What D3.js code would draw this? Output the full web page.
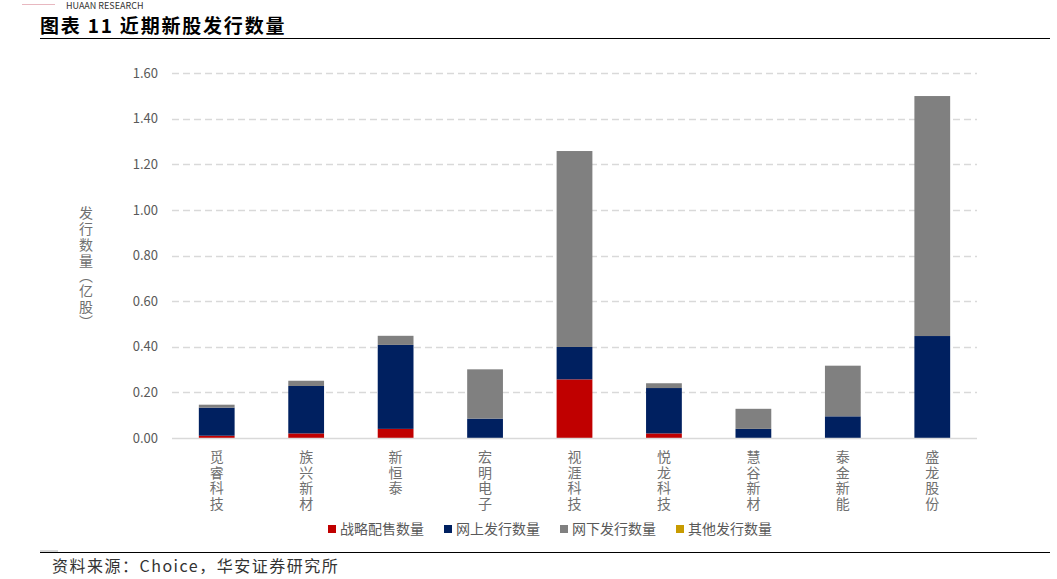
<!DOCTYPE html>
<html><head><meta charset="utf-8">
<script src="https://cdn.jsdelivr.net/npm/d3@7"></script>
<style>
body{margin:0;background:#fff;}
text{font-family:"Noto Sans CJK SC","Noto Sans",sans-serif;}
</style></head>
<body><svg id="c" width="1057" height="579"></svg>
<script>
const categories = ["觅睿科技","族兴新材","新恒泰","宏明电子","视涯科技","悦龙科技","慧谷新材","泰金新能","盛龙股份"];
const seriesNames = ["战略配售数量","网上发行数量","网下发行数量","其他发行数量"];
const strategic = [0.010, 0.020, 0.040, 0.000, 0.257, 0.020, 0.000, 0.000, 0.000];
const online    = [0.123, 0.208, 0.368, 0.085, 0.142, 0.199, 0.040, 0.095, 0.447];
const offline   = [0.013, 0.023, 0.040, 0.216, 0.859, 0.021, 0.088, 0.222, 1.052];
const other     = [0, 0, 0, 0, 0, 0, 0, 0, 0];
const yTicks = [0,0.2,0.4,0.6,0.8,1.0,1.2,1.4,1.6];
const yTitleChars = ["发","行","数","量","︵","亿","股","︶"];
const colors = ["#C00000","#002060","#808080","#C89B00"];

const svg = d3.select("#c");
const data = categories.map((c,i)=>({cat:c, s0:strategic[i], s1:online[i], s2:offline[i], s3:other[i]}));
const stack = d3.stack().keys(["s0","s1","s2","s3"])(data);

const x = d3.scaleBand().domain(categories).range([172,977]).paddingInner(0.6).paddingOuter(0.3);
const y = d3.scaleLinear().domain([0,1.6]).range([438,73]);

// header
svg.append("line").attr("x1",22).attr("x2",55).attr("y1",4.5).attr("y2",4.5).attr("stroke","#e8b8c0").attr("stroke-width",1);
svg.append("text").attr("x",66).attr("y",9).attr("font-size",9).attr("font-family","Liberation Serif").attr("fill","#333").text("HUAAN RESEARCH");
svg.append("text").attr("x",40).attr("y",33).attr("font-size",19).attr("font-weight","bold").attr("fill","#000")
  .style("letter-spacing","1.8px").text("图表 11 近期新股发行数量");
svg.append("line").attr("x1",40).attr("x2",1050).attr("y1",38.5).attr("y2",38.5).attr("stroke","#000").attr("stroke-width",1.2);

// grid
svg.append("g").selectAll("line").data(yTicks.slice(1)).join("line")
  .attr("x1",172).attr("x2",977).attr("y1",d=>Math.round(y(d))+0.5).attr("y2",d=>Math.round(y(d))+0.5)
  .attr("stroke","#d9d9d9").attr("stroke-width",1.3).attr("stroke-dasharray","7,4");

// y axis
const ya = svg.append("g").attr("transform","translate(172,0)")
  .call(d3.axisLeft(y).tickValues(yTicks).tickFormat(d3.format(".2f")).tickSize(0).tickPadding(14));
ya.select(".domain").remove();
ya.selectAll("text").attr("font-size",13).attr("fill","#595959").attr("font-family","Liberation Sans, Arial, sans-serif");

// bars
svg.append("g").selectAll("g").data(stack).join("g").attr("fill",(d,i)=>colors[i])
  .selectAll("rect").data(d=>d).join("rect")
  .attr("x",d=>x(d.data.cat)).attr("width",x.bandwidth())
  .attr("y",d=>y(d[1])).attr("height",d=>Math.max(0,y(d[0])-y(d[1])));

// x axis baseline
svg.append("line").attr("x1",172).attr("x2",977).attr("y1",438.5).attr("y2",438.5).attr("stroke","#d9d9d9").attr("stroke-width",1.3);

// x labels vertical
const xl = svg.append("g");
categories.forEach(c=>{
  [...c].forEach((ch,k)=>{
    xl.append("text").attr("text-anchor","middle").attr("font-size",14).attr("fill","#707070")
      .attr("x",x(c)+x.bandwidth()/2).attr("y",462+k*15.5).text(ch);
  });
});

// y title vertical (stacked characters)
const yPos = [218,234,250,266,281,296,312,327];
yTitleChars.forEach((ch,k)=>{
  svg.append("text").attr("text-anchor","middle").attr("font-size",14).attr("fill","#707070")
    .attr("x",86).attr("y",yPos[k]).text(ch);
});

// legend
const lx = [328,444,560,676];
const lg = svg.append("g");
seriesNames.forEach((n,i)=>{
  lg.append("rect").attr("x",lx[i]).attr("y",525).attr("width",8).attr("height",8).attr("fill",colors[i]);
  lg.append("text").attr("x",lx[i]+12).attr("y",534).attr("font-size",14).attr("fill","#595959").text(n);
});

// footer
svg.append("line").attr("x1",40).attr("x2",1050).attr("y1",552.5).attr("y2",552.5).attr("stroke","#000").attr("stroke-width",1);
svg.append("line").attr("x1",40).attr("x2",58).attr("y1",551).attr("y2",551).attr("stroke","#999").attr("stroke-width",0.8);
svg.append("text").attr("x",52).attr("y",572).attr("font-size",16).attr("fill","#333")
  .style("letter-spacing","1.5px").text("资料来源：Choice，华安证券研究所");
</script></body></html>
